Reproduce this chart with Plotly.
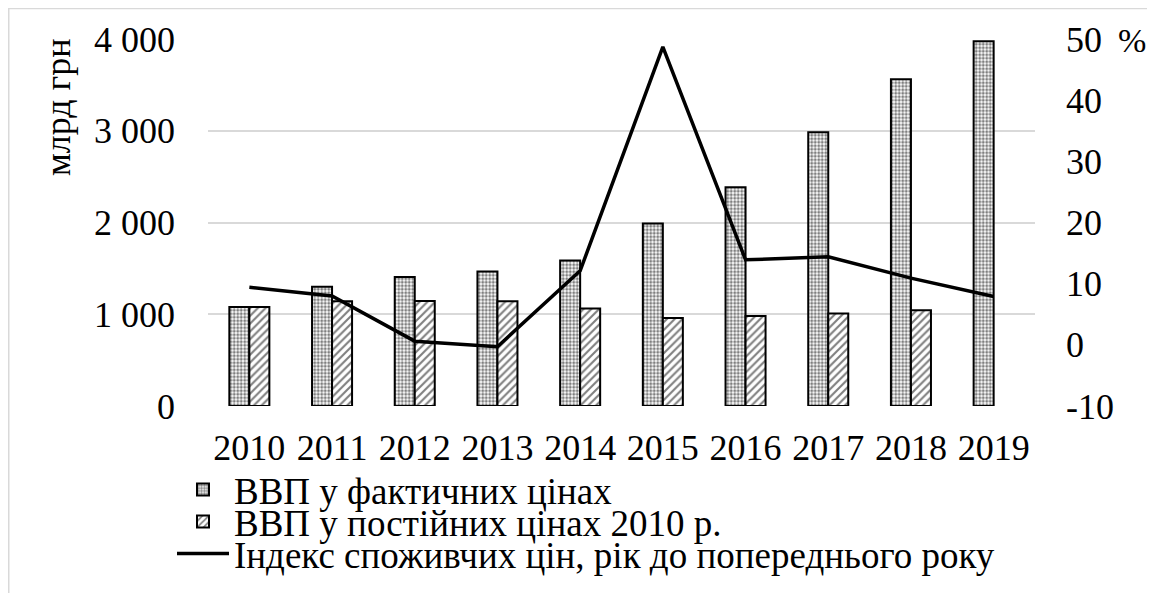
import plotly.graph_objects as go

years = ["2010", "2011", "2012", "2013", "2014", "2015", "2016", "2017", "2018", "2019"]
gdp_nominal = [1079.3, 1300.0, 1404.7, 1465.2, 1586.9, 1988.5, 2385.4, 2983.9, 3560.6, 3974.6]
gdp_real_2010 = [1079.3, 1142.0, 1144.0, 1143.0, 1063.0, 960.0, 982.0, 1008.0, 1044.0, None]
cpi = [9.4, 8.0, 0.6, -0.3, 12.1, 48.7, 13.9, 14.4, 10.9, 7.9]

y_ticks = [0, 1000, 2000, 3000, 4000]
y_ticktext = ["0", "1 000", "2 000", "3 000", "4 000"]
y2_ticks = [-10, 0, 10, 20, 30, 40, 50]
y2_ticktext = ["-10", "0", "10", "20", "30", "40", "50"]

name_nom = "ВВП у фактичних цінах"
name_real = "ВВП у постійних цінах 2010 р."
name_cpi = "Індекс споживчих цін, рік до попереднього року"

FONT = "Liberation Serif"
OFF = 8  # page body margin offset
W, H = 1155 - OFF, 593 - OFF
# plot area in screen pixels
SL, SR, ST, SB = 208, 1035, 39, 406
L, R, T, B = SL - OFF, SR - OFF, ST - OFF, SB - OFF
pw, ph = R - L, B - T

def py(spix):
    return (SB - spix) / ph

def px(spix):
    return (spix - SL) / pw

fig = go.Figure()
fig.add_trace(go.Bar(
    x=years, y=gdp_nominal, name=name_nom, legend="legend", showlegend=True,
    marker=dict(color="white", line=dict(color="black", width=2),
                pattern=dict(shape=".", fgcolor="black", bgcolor="white", size=3.5, solidity=0.55)),
))
fig.add_trace(go.Bar(
    x=years, y=gdp_real_2010, name=name_real, legend="legend2", showlegend=True,
    marker=dict(color="white", line=dict(color="black", width=2),
                pattern=dict(shape="/", fgcolor="black", bgcolor="white", size=5.5, solidity=0.38)),
))
fig.add_trace(go.Scatter(
    x=years, y=cpi, name=name_cpi, yaxis="y2", legend="legend3", mode="lines", showlegend=True,
    line=dict(color="black", width=3.5),
))

legend_common = dict(font=dict(family=FONT, size=37, color="black"), bgcolor="rgba(0,0,0,0)",
                     xanchor="left", yanchor="middle", itemwidth=52, tracegroupgap=0)
fig.update_layout(
    width=W, height=H,
    margin=dict(l=L, r=W - R, t=T, b=H - B, autoexpand=False),
    paper_bgcolor="white", plot_bgcolor="white",
    font=dict(family=FONT, size=36, color="black"),
    barmode="group", bargap=0.516, bargroupgap=0,
    hovermode=False, showlegend=True,
    legend=dict(x=px(172), y=py(490), **legend_common),
    legend2=dict(x=px(172), y=py(522), **legend_common),
    legend3=dict(x=px(172), y=py(554), **legend_common),
    xaxis=dict(type="category", showgrid=False, showline=False, ticks="",
               tickfont=dict(family=FONT, size=36), ticklabelstandoff=17),
    yaxis=dict(range=[0, 4000], tickvals=y_ticks, ticktext=y_ticktext,
               showgrid=True, gridcolor="#d9d9d9", gridwidth=1.5, zeroline=False,
               showline=False, ticks="", ticklabelstandoff=32,
               tickfont=dict(family=FONT, size=36)),
    yaxis2=dict(range=[-10, 50], tickvals=y2_ticks, ticktext=y2_ticktext, overlaying="y", side="right",
                showgrid=False, zeroline=False, showline=False, ticks="", ticklabelstandoff=30,
                tickfont=dict(family=FONT, size=36)),
    shapes=[dict(type="rect", xref="paper", yref="paper",
                 x0=px(8.75), x1=px(1200), y0=py(640), y1=py(8.5),
                 line=dict(color="#d9d9d9", width=1.5), fillcolor="rgba(0,0,0,0)", layer="below")],
    annotations=[
        dict(text="млрд грн", xref="paper", yref="paper", x=px(58), y=py(107),
             showarrow=False, textangle=-90, font=dict(family=FONT, size=36),
             xanchor="center", yanchor="middle"),
        dict(text="%", xref="paper", yref="paper", x=px(1116), y=py(40),
             showarrow=False, font=dict(family=FONT, size=34),
             xanchor="left", yanchor="middle"),
    ],
)

fig.write_html("out.html")
